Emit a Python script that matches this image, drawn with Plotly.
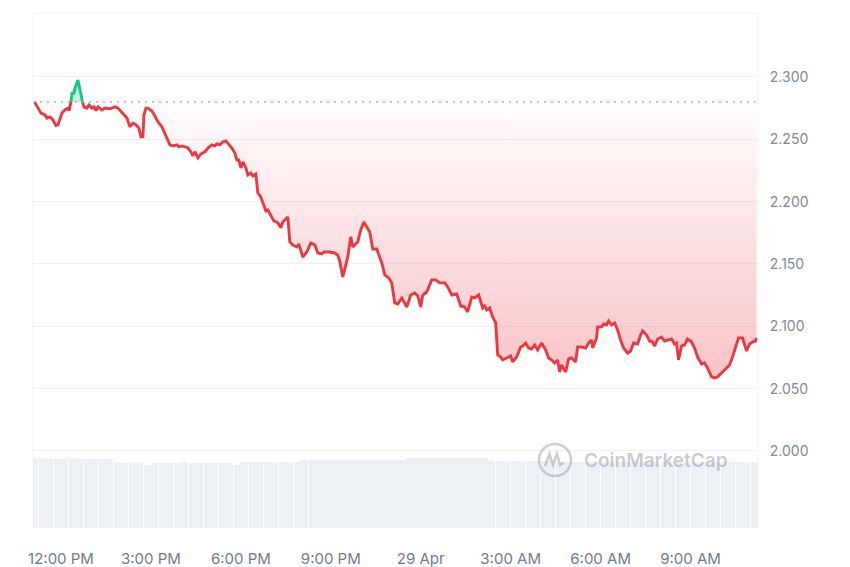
import plotly.graph_objects as go
import pandas as pd

# ---------------- data ----------------
# minutes after 12:00 PM (28 Apr) and price
minutes_from_noon = [
    -53, -46, -40, -32, -28, -22, -16, -10, -6, 2, 8, 14, 16, 20, 22, 26, 28, 34, 38, 42,
    46, 52, 56, 62, 66, 70, 74, 82, 88, 98, 108, 114, 124, 132, 138, 144, 150, 156, 160, 164,
    166, 170, 174, 182, 188, 194, 202, 208, 212, 218, 224, 232, 236, 242, 248, 254, 260, 264, 268, 274,
    280, 288, 294, 302, 308, 312, 318, 324, 330, 334, 342, 348, 352, 356, 360, 364, 370, 374, 380, 384,
    390, 394, 400, 404, 410, 414, 420, 426, 434, 440, 444, 454, 458, 464, 472, 476, 484, 492, 500, 508,
    514, 522, 526, 536, 548, 554, 558, 564, 574, 580, 584, 594, 600, 606, 612, 618, 624, 632, 642, 648,
    656, 662, 668, 674, 682, 692, 700, 708, 714, 720, 724, 732, 742, 750, 758, 768, 774, 782, 792, 800,
    808, 814, 822, 828, 836, 844, 848, 852, 858, 864, 870, 874, 880, 884, 892, 900, 904, 912, 920, 924,
    930, 936, 942, 948, 954, 962, 970, 976, 982, 988, 994, 998, 1002, 1010, 1016, 1022, 1030, 1034, 1042, 1050,
    1056, 1062, 1064, 1072, 1074, 1082, 1086, 1092, 1096, 1102, 1108, 1114, 1120, 1126, 1134, 1140, 1146, 1154, 1160, 1164,
    1172, 1178, 1184, 1188, 1194, 1202, 1208, 1214, 1222, 1228, 1232, 1236, 1242, 1248, 1254, 1262, 1268, 1274, 1282, 1288,
    1294, 1302, 1308, 1314, 1322, 1328, 1338, 1344, 1350, 1356, 1364, 1372, 1378, 1384, 1390, 1392,
]
price = [
    2.2800, 2.2750, 2.2710, 2.2695, 2.2670, 2.2680, 2.2655, 2.2610, 2.2615, 2.2710, 2.2735, 2.2750, 2.2730, 2.2800, 2.2870, 2.2870, 2.2910, 2.2975, 2.2895, 2.2815,
    2.2760, 2.2750, 2.2775, 2.2750, 2.2760, 2.2730, 2.2760, 2.2735, 2.2750, 2.2745, 2.2760, 2.2750, 2.2710, 2.2670, 2.2600, 2.2630, 2.2615, 2.2590, 2.2520, 2.2520,
    2.2695, 2.2750, 2.2750, 2.2727, 2.2687, 2.2640, 2.2600, 2.2550, 2.2510, 2.2455, 2.2447, 2.2455, 2.2440, 2.2447, 2.2440, 2.2430, 2.2400, 2.2366, 2.2400, 2.2350,
    2.2382, 2.2400, 2.2430, 2.2455, 2.2447, 2.2463, 2.2455, 2.2480, 2.2487, 2.2470, 2.2430, 2.2390, 2.2334, 2.2334, 2.2270, 2.2318, 2.2270, 2.2214, 2.2230, 2.2206,
    2.2222, 2.2070, 2.2037, 2.1990, 2.1925, 2.1933, 2.1893, 2.1845, 2.1830, 2.1790, 2.1837, 2.1877, 2.1677, 2.1652, 2.1636, 2.1660, 2.1556, 2.1596, 2.1668, 2.1652,
    2.1588, 2.1580, 2.1596, 2.1596, 2.1588, 2.1570, 2.1520, 2.1396, 2.1556, 2.1717, 2.1636, 2.1677, 2.1773, 2.1837, 2.1797, 2.1757, 2.1620, 2.1620, 2.1508, 2.1412,
    2.1388, 2.1348, 2.1187, 2.1179, 2.1227, 2.1155, 2.1251, 2.1267, 2.1243, 2.1155, 2.1251, 2.1275, 2.1372, 2.1372, 2.1348, 2.1348, 2.1316, 2.1251, 2.1259, 2.1163,
    2.1155, 2.1115, 2.1235, 2.1227, 2.1251, 2.1147, 2.1163, 2.1131, 2.1147, 2.1075, 2.1027, 2.0770, 2.0754, 2.0730, 2.0746, 2.0762, 2.0714, 2.0754, 2.0834, 2.0842,
    2.0866, 2.0826, 2.0818, 2.0850, 2.0810, 2.0866, 2.0810, 2.0746, 2.0730, 2.0706, 2.0730, 2.0634, 2.0690, 2.0634, 2.0738, 2.0746, 2.0714, 2.0834, 2.0834, 2.0826,
    2.0866, 2.0890, 2.0826, 2.0906, 2.0995, 2.0995, 2.1019, 2.1011, 2.1043, 2.1011, 2.1027, 2.0971, 2.0890, 2.0826, 2.0786, 2.0802, 2.0866, 2.0858, 2.0930, 2.0963,
    2.0930, 2.0882, 2.0874, 2.0842, 2.0898, 2.0914, 2.0882, 2.0890, 2.0898, 2.0858, 2.0866, 2.0730, 2.0842, 2.0850, 2.0898, 2.0874, 2.0826, 2.0754, 2.0698, 2.0706,
    2.0666, 2.0594, 2.0586, 2.0594, 2.0626, 2.0658, 2.0690, 2.0754, 2.0834, 2.0906, 2.0906, 2.0802, 2.0858, 2.0874, 2.0882, 2.0906,
]
baseline_price = 2.280

# volume bars (15-minute buckets, relative units), first bucket centred at 11:07:30
volume_start_minute = -52.5
volume_step_minutes = 15
volume = [
    70.2, 70.5, 70.1, 70.4, 70.3, 70.6, 70.2, 70.0, 70.3, 70.1, 69.8,
    66.4, 66.0, 66.3, 65.8, 64.2,
    66.1, 66.3, 66.0, 66.2, 66.4, 66.1, 65.9, 66.2, 66.0, 66.3, 66.1,
    64.3,
    67.0, 67.2, 66.9, 67.1, 67.3, 67.0, 67.2, 67.4,
    69.0, 69.2, 68.9, 69.1, 69.3, 69.0, 69.2, 69.1, 68.8, 69.0, 69.3, 69.1, 69.0, 69.2,
    71.0, 71.2, 70.9, 71.3, 71.1, 71.0, 71.2, 70.8, 71.1, 71.0, 70.7,
    68.2, 68.0, 67.8, 68.1, 68.3, 67.9, 68.0, 68.2, 67.7,
    67.0, 67.2, 66.9, 67.1, 67.0, 67.3, 66.8, 67.0, 67.2, 67.1, 66.9, 67.0, 67.2, 67.1,
    67.0, 66.8, 67.1, 67.3, 67.0, 66.9, 67.1, 67.2, 67.0, 66.9, 67.1, 67.0, 67.2,
]

tick_minutes = [0, 180, 360, 540, 720, 900, 1080, 1260]
tick_labels = ["12:00 PM", "3:00 PM", "6:00 PM", "9:00 PM", "29 Apr", "3:00 AM", "6:00 AM", "9:00 AM"]
y_ticks = [2.000, 2.050, 2.100, 2.150, 2.200, 2.250, 2.300]

# ---------------- helpers ----------------
noon = pd.Timestamp("2024-04-28 12:00:00")


def to_time(mins):
    return [noon + pd.Timedelta(minutes=float(m)) for m in mins]


# insert baseline crossings so red/green segments meet exactly
t_aug, p_aug = [], []
for i, (m, p) in enumerate(zip(minutes_from_noon, price)):
    if i > 0:
        a, b = price[i - 1], p
        if (a - baseline_price) * (b - baseline_price) < 0:
            f = (baseline_price - a) / (b - a)
            t_aug.append(minutes_from_noon[i - 1] + f * (m - minutes_from_noon[i - 1]))
            p_aug.append(baseline_price)
    t_aug.append(m)
    p_aug.append(p)

times = to_time(t_aug)
lower = [min(p, baseline_price) for p in p_aug]
upper = [max(p, baseline_price) for p in p_aug]
red_line = [p if p <= baseline_price else None for p in p_aug]
green_line = [p if p >= baseline_price else None for p in p_aug]
base_line = [baseline_price] * len(p_aug)

vol_times = to_time([volume_start_minute + volume_step_minutes * k for k in range(len(volume))])

RED = "#EA3943"
GREEN = "#16C784"

fig = go.Figure()

# volume
fig.add_trace(go.Bar(
    x=vol_times, y=volume, yaxis="y2",
    marker=dict(color="#EDF0F4", line=dict(width=0)),
    width=volume_step_minutes * 60 * 1000 * 0.95,
    hoverinfo="skip", showlegend=False,
))

# red fill (below baseline)
fig.add_trace(go.Scatter(x=times, y=base_line, mode="lines", line=dict(width=0),
                         hoverinfo="skip", showlegend=False))
fig.add_trace(go.Scatter(
    x=times, y=lower, mode="lines", line=dict(width=0), fill="tonexty",
    fillgradient=dict(type="vertical", start=2.056, stop=baseline_price,
                      colorscale=[[0, "rgba(234,57,67,0.30)"], [1, "rgba(234,57,67,0.01)"]]),
    hoverinfo="skip", showlegend=False,
))
# green fill (above baseline)
fig.add_trace(go.Scatter(x=times, y=base_line, mode="lines", line=dict(width=0),
                         hoverinfo="skip", showlegend=False))
fig.add_trace(go.Scatter(
    x=times, y=upper, mode="lines", line=dict(width=0), fill="tonexty",
    fillcolor="rgba(22,199,132,0.25)", hoverinfo="skip", showlegend=False,
))

# lines
fig.add_trace(go.Scatter(x=times, y=red_line, mode="lines",
                         line=dict(color=RED, width=2.9), connectgaps=False,
                         showlegend=False))
fig.add_trace(go.Scatter(x=times, y=green_line, mode="lines",
                         line=dict(color=GREEN, width=2.9), connectgaps=False,
                         showlegend=False))

# ---------------- layout ----------------
# the page body adds an 8px offset, so the figure is 842x559 and shifted accordingly
OFF = 8
W, H = 850 - OFF, 567 - OFF
L, T = 33 - OFF, 13 - OFF
R = W - (758 - OFF)
B = H - (528 - OFF)
pw, ph = W - L - R, H - T - B


def px(xp):  # screen pixel -> paper
    return (xp - OFF - L) / pw


def py(yp):
    return (H - B - (yp - OFF)) / ph


shapes = [
    # dotted baseline
    dict(type="line", xref="paper", yref="y", x0=0, x1=0.997, y0=baseline_price, y1=baseline_price,
         line=dict(color="#9AA3B2", width=1.3, dash="2px,5px"), layer="above"),
    # frame
    dict(type="line", xref="paper", yref="paper", x0=0, x1=0, y0=0, y1=1,
         line=dict(color="#EFF2F5", width=1)),
    dict(type="line", xref="paper", yref="paper", x0=1, x1=1, y0=0, y1=1,
         line=dict(color="#EFF2F5", width=1)),
    dict(type="line", xref="paper", yref="paper", x0=0, x1=1, y0=1, y1=1,
         line=dict(color="#EFF2F5", width=1)),
    # watermark logo circle
    dict(type="circle", xref="paper", yref="paper",
         x0=px(539), x1=px(571), y0=py(476), y1=py(444),
         line=dict(color="rgba(160,168,182,0.55)", width=2.6)),
    dict(type="path", xref="paper", yref="paper",
         path=(f"M {px(545)} {py(466)} L {px(549.5)} {py(454)} L {px(553)} {py(465)} "
               f"L {px(557)} {py(454)} L {px(560)} {py(465)} L {px(564)} {py(463)}"),
         line=dict(color="rgba(160,168,182,0.55)", width=2.6)),
]

fig.update_layout(
    width=W, height=H,
    margin=dict(l=L, r=R, t=T, b=B, autoexpand=False),
    paper_bgcolor="white", plot_bgcolor="white",
    font=dict(family="Inter, Roboto, sans-serif", color="#808A9D", size=14),
    showlegend=False,
    bargap=0,
    xaxis=dict(
        type="date", automargin=False,
        range=[noon + pd.Timedelta(minutes=-56), noon + pd.Timedelta(minutes=1395)],
        tickvals=to_time(tick_minutes), ticktext=tick_labels,
        showgrid=False, zeroline=False, showline=False,
        ticks="outside", ticklen=17, tickcolor="rgba(0,0,0,0)",
        tickfont=dict(size=15, color="#6F7B90"),
    ),
    yaxis=dict(
        side="right", range=[1.9382, 2.3513], automargin=False,
        tickvals=y_ticks, tickformat=".3f",
        showgrid=True, gridcolor="#EFF2F5", gridwidth=1,
        zeroline=False, showline=False,
        ticks="outside", ticklen=8, tickcolor="rgba(0,0,0,0)",
        tickfont=dict(size=14, color="#808A9D"),
    ),
    yaxis2=dict(
        overlaying="y", side="left", range=[0, 522], automargin=False,
        showgrid=False, zeroline=False, showticklabels=False, showline=False, ticks="",
    ),
    shapes=shapes,
    annotations=[
        dict(text="CoinMarketCap", xref="paper", yref="paper", x=px(582), y=py(460),
             xanchor="left", yanchor="middle", showarrow=False,
             font=dict(size=19, color="rgba(150,160,176,0.55)", family="Inter, Roboto, sans-serif",
                       weight=600)),
    ],
)

fig.write_html("out.html")
